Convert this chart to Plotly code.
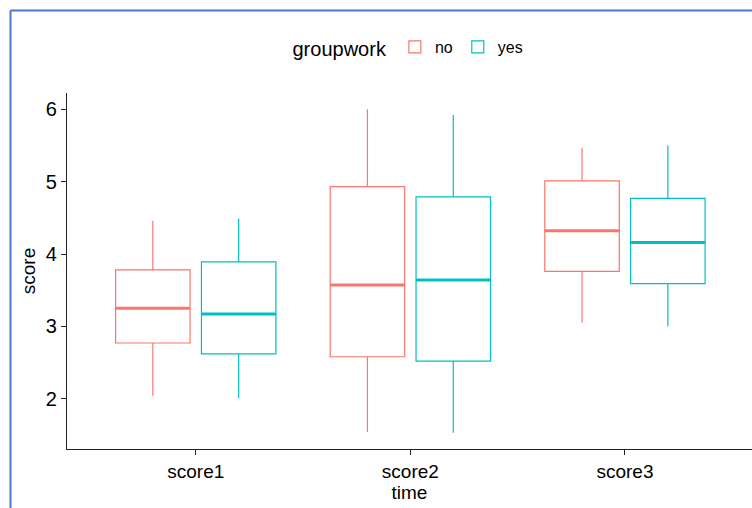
import plotly.graph_objects as go

# ---- data ----
categories = ["score1", "score2", "score3"]
groups = ["no", "yes"]
colors = {"no": "#F8766D", "yes": "#00BFC4"}

no_lower = [2.04, 1.54, 3.05]
no_q1 = [2.77, 2.58, 3.76]
no_median = [3.25, 3.57, 4.32]
no_q3 = [3.78, 4.93, 5.01]
no_upper = [4.46, 6.00, 5.47]

yes_lower = [2.01, 1.53, 3.00]
yes_q1 = [2.62, 2.52, 3.59]
yes_median = [3.17, 3.64, 4.16]
yes_q3 = [3.89, 4.79, 4.77]
yes_upper = [4.49, 5.92, 5.50]

stats = {
    "no": (no_lower, no_q1, no_median, no_q3, no_upper),
    "yes": (yes_lower, yes_q1, yes_median, yes_q3, yes_upper),
}

y_ticks = [2, 3, 4, 5, 6]

FONT = "Liberation Sans, Arial, sans-serif"

fig = go.Figure()

for g in groups:
    lo, q1, med, q3, up = stats[g]
    fig.add_trace(go.Box(
        name=g, x=categories,
        lowerfence=lo, q1=q1, median=med, q3=q3, upperfence=up,
        line=dict(color=colors[g], width=1.2),
        fillcolor="rgba(255,255,255,0)",
        whiskerwidth=0, boxpoints=False,
        offsetgroup=g, alignmentgroup="a",
        hoverinfo="skip",
    ))

# thicker median lines (degenerate boxes at the median)
for g in groups:
    lo, q1, med, q3, up = stats[g]
    fig.add_trace(go.Box(
        name=g + " median", x=categories,
        lowerfence=med, q1=med, median=med, q3=med, upperfence=med,
        line=dict(color=colors[g], width=3),
        fillcolor="rgba(255,255,255,0)",
        whiskerwidth=0, boxpoints=False,
        offsetgroup=g, alignmentgroup="a",
        showlegend=False, hoverinfo="skip",
    ))

W, H = 752, 508
ML, MR, MT, MB = 67, 0, 93, 59
pw, ph = W - ML - MR, H - MT - MB

def px_x(x):
    return (x - ML) / pw

def px_y(y):
    return (H - MB - y) / ph

fig.update_layout(
    width=W, height=H,
    margin=dict(l=ML, r=MR, t=MT, b=MB, pad=0),
    paper_bgcolor="white", plot_bgcolor="white",
    font=dict(family=FONT, color="black", size=19),
    boxmode="group", boxgap=0.2, boxgroupgap=0.1325,
    showlegend=True,
    legend=dict(
        orientation="h", x=0.5, xanchor="center",
        y=px_y(48), yanchor="middle",
        title=dict(text="groupwork", side="left", font=dict(size=20)),
        font=dict(size=16), itemwidth=30,
        bgcolor="rgba(0,0,0,0)",
    ),
    xaxis=dict(
        type="category", categoryorder="array", categoryarray=categories,
        range=[-0.6, 2.6 - (ML + 686.7 - W) / 214.6],
        showline=True, linecolor="#222", linewidth=1.3,
        ticks="outside", ticklen=5, tickcolor="#222", tickwidth=1.3,
        showgrid=False, zeroline=False,
        tickfont=dict(size=19),
        title=dict(text="time", font=dict(size=19), standoff=4),
    ),
    yaxis=dict(
        range=[1.305, 6.225],
        tickvals=y_ticks, ticktext=[str(v) for v in y_ticks],
        showline=True, linecolor="#222", linewidth=1.3,
        ticks="outside", ticklen=5, tickcolor="#222", tickwidth=1.3,
        showgrid=False, zeroline=False,
        tickfont=dict(size=20),
        title=dict(text="score", font=dict(size=19), standoff=5),
    ),
)

# blue frame of the screenshot (left and top edges)
border = "#4A78CF"
fig.add_shape(type="line", xref="paper", yref="paper",
              x0=px_x(10.5), x1=px_x(W + 5), y0=px_y(10.5), y1=px_y(10.5),
              line=dict(color=border, width=2), layer="above")
fig.add_shape(type="line", xref="paper", yref="paper",
              x0=px_x(10.5), x1=px_x(10.5), y0=px_y(10.5), y1=px_y(H + 5),
              line=dict(color=border, width=2), layer="above")

fig.write_html(
    "out.html",
    config={"displayModeBar": False},
    post_script="document.body.style.margin='0';document.body.style.overflow='hidden';",
)
